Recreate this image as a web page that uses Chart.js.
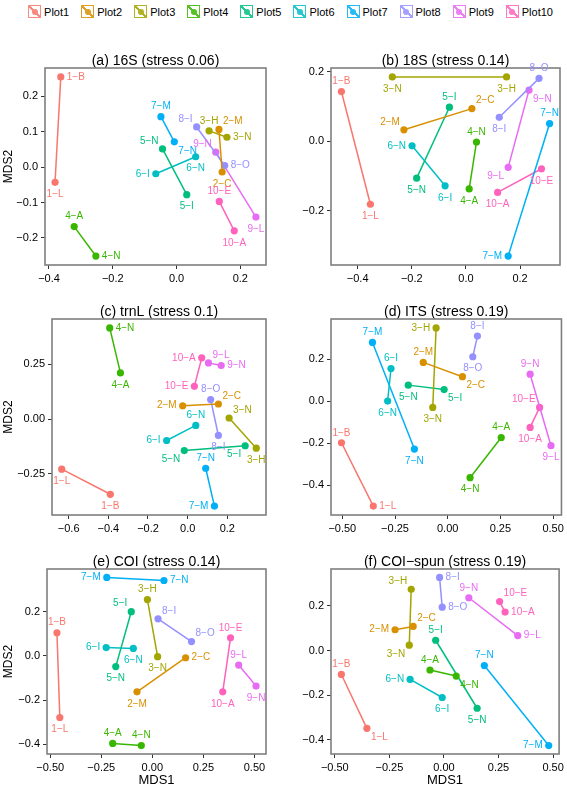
<!DOCTYPE html>
<html>
<head>
<meta charset="utf-8">
<script src="https://cdn.jsdelivr.net/npm/chart.js@4.4.1/dist/chart.umd.min.js"></script>
<style>
body { margin: 0; background: #fff; width: 567px; height: 787px; position: relative; overflow: hidden; font-family: "Liberation Sans", Arial, sans-serif; }
#legend { position: absolute; left: 14px; top: 5px; width: 553px; display: flex; justify-content: center; font-size: 11px; color: #000; }
.item { display: flex; align-items: center; margin: 0 6px; }
.key { width: 11px; height: 11px; border: 1px solid var(--c); position: relative; margin-right: 3px; opacity: 0.85;
  background: linear-gradient(to top right, transparent calc(50% - 0.8px), var(--c) calc(50% - 0.8px), var(--c) calc(50% + 0.8px), transparent calc(50% + 0.8px)); }
.key::after { content: ""; position: absolute; left: 2.5px; top: 2.5px; width: 6px; height: 6px; border-radius: 50%; background: var(--c); }
canvas { position: absolute; }
</style>
</head>
<body>
<div id="legend"></div>
<script>
// plots and the two sample labels of each plot
const plotNames = ['Plot1','Plot2','Plot3','Plot4','Plot5','Plot6','Plot7','Plot8','Plot9','Plot10'];
const pointLabels = [['1−B','1−L'],['2−M','2−C'],['3−H','3−N'],['4−A','4−N'],['5−N','5−I'],
                     ['6−I','6−N'],['7−M','7−N'],['8−I','8−O'],['9−N','9−L'],['10−E','10−A']];
const colors = ['#F8766D','#D89000','#A3A500','#39B600','#00BF7D','#00BFC4','#00B0F6','#9590FF','#E76BF3','#FF62BC'];

// MDS coordinates, two per plot in the order of pointLabels
const x16S = [-0.363,-0.381, 0.133,0.143, 0.102,0.158, -0.321,-0.253, -0.044,0.032, -0.065,0.060, -0.049,-0.007, 0.063,0.151, 0.123,0.249, 0.134,0.181];
const y16S = [0.254,-0.043, 0.106,-0.014, 0.102,0.084, -0.168,-0.251, 0.051,-0.078, -0.019,0.029, 0.142,0.071, 0.113,0.004, 0.042,-0.141, -0.097,-0.180];

const x18S = [-0.460,-0.353, -0.229,0.022, 0.150,-0.272, 0.012,0.039, -0.182,-0.061, -0.077,-0.199, 0.156,0.309, 0.123,0.270, 0.233,0.156, 0.279,0.117];
const y18S = [0.143,-0.181, 0.033,0.094, 0.185,0.185, -0.137,-0.002, -0.106,0.098, -0.128,-0.013, -0.330,0.051, 0.069,0.181, 0.147,-0.075, -0.079,-0.147];

const xTrnL = [-0.390,-0.635, -0.025,0.155, 0.346,0.209, -0.339,-0.393, -0.017,0.290, -0.106,0.041, 0.135,0.091, 0.155,0.116, 0.169,0.105, 0.034,0.071];
const yTrnL = [-0.344,-0.229, 0.061,0.069, -0.133,0.005, 0.211,0.417, -0.144,-0.122, -0.098,-0.029, -0.398,-0.225, -0.075,0.089, 0.245,0.257, 0.150,0.280];

const xITS = [-0.504,-0.353, -0.116,0.070, -0.055,-0.071, 0.254,0.106, -0.187,-0.017, -0.269,-0.285, -0.357,-0.158, 0.141,0.119, 0.391,0.490, 0.436,0.391];
const yITS = [-0.198,-0.499, 0.184,0.116, 0.348,-0.030, -0.173,-0.364, 0.076,0.055, 0.155,0.000, 0.279,-0.228, 0.309,0.211, 0.128,-0.212, -0.030,-0.125];

const xCOI = [-0.467,-0.453, -0.075,0.163, -0.024,0.026, -0.194,-0.054, -0.179,-0.103, -0.226,-0.093, -0.223,0.057, 0.028,0.192, 0.508,0.423, 0.383,0.345];
const yCOI = [0.104,-0.279, -0.163,-0.009, 0.254,-0.004, -0.396,-0.406, -0.049,0.199, 0.037,0.033, 0.354,0.340, 0.167,0.064, -0.137,-0.042, 0.081,-0.163];

const xSpun = [-0.470,-0.353, -0.224,-0.141, -0.150,-0.159, -0.064,0.056, 0.152,-0.038, -0.008,-0.155, 0.480,0.185, -0.020,-0.008, 0.114,0.338, 0.255,0.280];
const ySpun = [-0.107,-0.348, 0.093,0.108, 0.274,0.024, -0.087,-0.114, -0.258,0.046, -0.210,-0.129, -0.425,-0.067, 0.327,0.194, 0.236,0.067, 0.219,0.172];

// tick values and labels
const ticks4 = [-0.4,-0.2,0,0.2];          const ticks4Lab = ['−0.4','−0.2','0.0','0.2'];
const ticks5 = [-0.2,-0.1,0,0.1,0.2];      const ticks5Lab = ['−0.2','−0.1','0.0','0.1','0.2'];
const ticks3 = [-0.2,0,0.2];               const ticks3Lab = ['−0.2','0.0','0.2'];
const ticksC = [-0.6,-0.4,-0.2,0,0.2];     const ticksCLab = ['−0.6','−0.4','−0.2','0.0','0.2'];
const ticksQ = [-0.25,0,0.25];             const ticksQLab = ['−0.25','0.00','0.25'];
const ticksH = [-0.5,-0.25,0,0.25,0.5];    const ticksHLab = ['−0.50','−0.25','0.00','0.25','0.50'];

// where each text label sits around its point
const pos16S = ['r','b','tr','b','t','r','t','r','tl','b','l','b','t','br','tl','r','tl','b','t','b'];
const pos18S = ['t','b','tl','tr','b','b','b','t','b','t','b','l','l','t','b','t','br','bl','b','b'];
const posTrnL = ['b','b','l','tr','b','tr','b','r','bl','bl','l','t','l','t','b','t','r','tr','l','l'];
const posITS = ['t','r','t','br','l','b','t','b','b','br','t','b','t','b','t','b','t','b','tl','b'];
const posCOI = ['t','b','b','r','t','b','t','t','b','tl','l','b','l','r','tr','tr','b','t','t','b'];
const posSpun = ['t','br','l','tr','tl','bl','t','br','b','t','b','l','l','t','r','r','t','r','tr','r'];

const panels = [
  { title: '(a) 16S (stress 0.06)',      x: x16S,  y: y16S,  pos: pos16S,  xt: ticks4, xl: ticks4Lab, yt: ticks5, yl: ticks5Lab, box: [45, 68, 266, 265],  col: 0, last: false },
  { title: '(b) 18S (stress 0.14)',      x: x18S,  y: y18S,  pos: pos18S,  xt: ticks4, xl: ticks4Lab, yt: ticks3, yl: ticks3Lab, box: [331, 68, 560, 265], col: 1, last: false },
  { title: '(c) trnL (stress 0.1)',      x: xTrnL, y: yTrnL, pos: posTrnL, xt: ticksC, xl: ticksCLab, yt: ticksQ, yl: ticksQLab, box: [52, 319, 266, 515], col: 0, last: false },
  { title: '(d) ITS (stress 0.19)',      x: xITS,  y: yITS,  pos: posITS,  xt: ticksH, xl: ticksHLab, yt: ticks4, yl: ticks4Lab, box: [331, 319, 562, 515], col: 1, last: false },
  { title: '(e) COI (stress 0.14)',      x: xCOI,  y: yCOI,  pos: posCOI,  xt: ticksH, xl: ticksHLab, yt: ticks4, yl: ticks4Lab, box: [47, 569, 266, 754], col: 0, last: true },
  { title: '(f) COI−spun (stress 0.19)', x: xSpun, y: ySpun, pos: posSpun, xt: ticksH, xl: ticksHLab, yt: ticks4, yl: ticks4Lab, box: [331, 569, 565, 754], col: 1, last: true }
];

const FONT = '"Liberation Sans", Arial, sans-serif';

// legend
const legend = document.getElementById('legend');
plotNames.forEach((n, i) => {
  const it = document.createElement('div');
  it.className = 'item';
  it.innerHTML = '<span class="key" style="--c:' + colors[i] + '"></span><span>' + n + '</span>';
  legend.appendChild(it);
});

const offsets = {
  r:  ['left', 6, 0],   l:  ['right', -6, 0],
  t:  ['center', 0, -10], b: ['center', 0, 12],
  tr: ['left', 4, -8],  tl: ['right', -4, -8],
  br: ['left', 4, 9],   bl: ['right', -4, 9]
};

const pointText = {
  id: 'pointText',
  afterDatasetsDraw(chart, args, opts) {
    const ctx = chart.ctx;
    ctx.save();
    ctx.font = '10px ' + FONT;
    ctx.textBaseline = 'middle';
    chart.data.datasets.forEach((ds, i) => {
      chart.getDatasetMeta(i).data.forEach((pt, j) => {
        const o = offsets[opts.pos[i * 2 + j]];
        ctx.textAlign = o[0];
        ctx.fillStyle = colors[i];
        ctx.fillText(pointLabels[i][j], pt.x + o[1], pt.y + o[2]);
      });
    });
    ctx.restore();
  }
};

const frame = {
  id: 'frame',
  beforeDatasetsDraw(chart) {
    const a = chart.chartArea, ctx = chart.ctx;
    ctx.save();
    ctx.strokeStyle = '#7f7f7f';
    ctx.lineWidth = 1.6;
    ctx.strokeRect(a.left, a.top, a.right - a.left, a.bottom - a.top);
    ctx.restore();
  }
};

function range(v) {
  const lo = Math.min(...v), hi = Math.max(...v), e = (hi - lo) * 0.05;
  return [lo - e, hi + e];
}

panels.forEach(p => {
  const titleH = 14;
  const cl = p.col === 0 ? 0 : 283;
  const cw = p.col === 0 ? 283 : 284;
  const xh = p.last ? 787 - p.box[3] : 24;
  const ct = p.box[1] - titleH;
  const ch = p.box[3] - p.box[1] + titleH + xh;
  const cv = document.createElement('canvas');
  cv.width = cw; cv.height = ch;
  cv.style.left = cl + 'px'; cv.style.top = ct + 'px';
  document.body.appendChild(cv);

  const datasets = plotNames.map((n, i) => ({
    label: n,
    data: [{ x: p.x[i * 2], y: p.y[i * 2] }, { x: p.x[i * 2 + 1], y: p.y[i * 2 + 1] }],
    showLine: true,
    borderColor: colors[i],
    backgroundColor: colors[i],
    borderWidth: 1.5,
    pointRadius: 3.6,
    pointHoverRadius: 3.6,
    pointBorderWidth: 0
  }));
  const xr = range(p.x), yr = range(p.y);

  new Chart(cv, {
    type: 'scatter',
    data: { datasets },
    plugins: [frame, pointText],
    options: {
      responsive: false,
      animation: false,
      events: [],
      layout: { padding: { left: 0, top: 0, bottom: 0, right: cw - (p.box[2] - cl) } },
      plugins: {
        legend: { display: false },
        tooltip: { enabled: false },
        title: { display: true, text: p.title, fullSize: false, color: '#000',
                 font: { family: FONT, size: 14, weight: 'normal', lineHeight: 1 }, padding: 0 },
        pointText: { pos: p.pos }
      },
      scales: {
        x: {
          type: 'linear', min: xr[0], max: xr[1],
          afterBuildTicks: s => { s.ticks = p.xt.map(v => ({ value: v })); },
          afterFit: s => { s.height = xh; },
          grid: { drawOnChartArea: false, drawTicks: true, tickLength: 4, color: '#333' },
          border: { display: false },
          ticks: { color: '#000', font: { family: FONT, size: 11 }, padding: 3, maxRotation: 0, autoSkip: false,
                   callback: v => p.xl[p.xt.indexOf(v)] },
          title: { display: p.last, text: 'MDS1', color: '#000', font: { family: FONT, size: 13, lineHeight: 1 }, padding: 0 }
        },
        y: {
          type: 'linear', min: yr[0], max: yr[1],
          afterBuildTicks: s => { s.ticks = p.yt.map(v => ({ value: v })); },
          afterFit: s => { s.width = p.box[0] - cl; },
          grid: { drawOnChartArea: false, drawTicks: true, tickLength: 4, color: '#333' },
          border: { display: false },
          ticks: { color: '#000', font: { family: FONT, size: 11 }, padding: 3, autoSkip: false,
                   callback: v => p.yl[p.yt.indexOf(v)] },
          title: { display: p.col === 0, text: 'MDS2', color: '#000', font: { family: FONT, size: 12, lineHeight: 1.2 }, padding: 1 }
        }
      }
    }
  });
});
</script>
</body>
</html>
